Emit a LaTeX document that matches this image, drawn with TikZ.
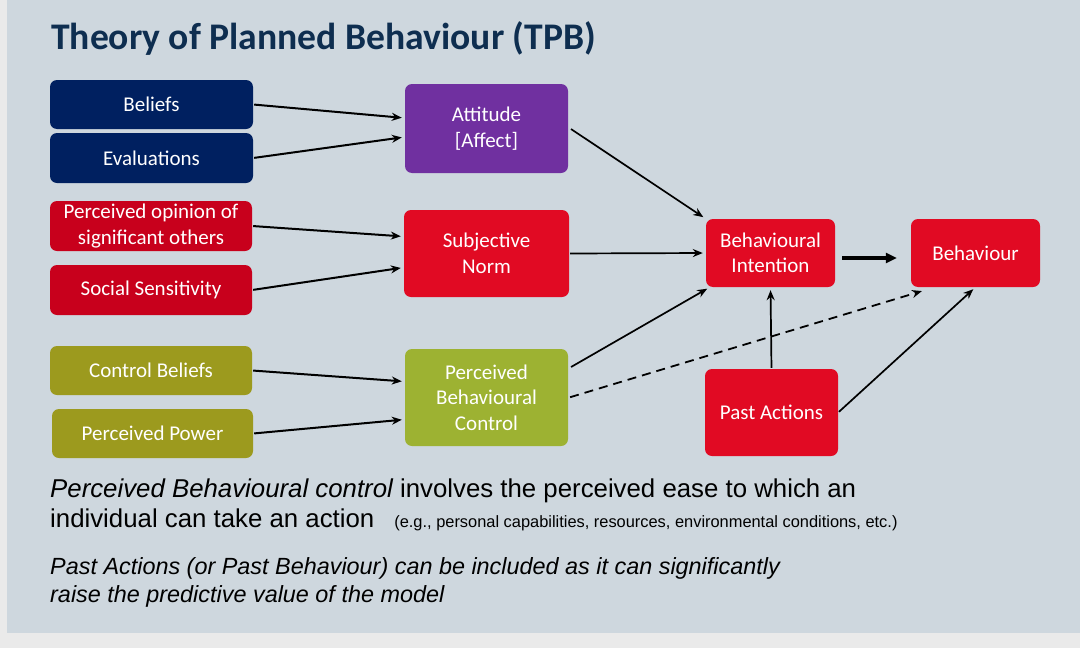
\documentclass[tikz,border=0pt]{standalone}
\usepackage{fontspec}
\setmainfont{Carlito}
\newfontfamily\bodyfont{Liberation Sans}
\usetikzlibrary{arrows.meta,calc}
\definecolor{slidebg}{HTML}{CED7DE}
\definecolor{outerbg}{HTML}{EAEAEA}
\definecolor{navy}{HTML}{002060}
\definecolor{purp}{HTML}{7030A0}
\definecolor{redA}{HTML}{C8001C}
\definecolor{redB}{HTML}{E10A23}
\definecolor{olive}{HTML}{9C9A1E}
\definecolor{lime}{HTML}{9DB232}
\definecolor{titlec}{HTML}{0E2E50}
\tikzset{
  box/.style={rounded corners=7pt, text=white, align=center, font=\fontsize{21}{25.5}\selectfont, inner sep=2pt},
  arr/.style={-{Stealth[length=10pt,width=8pt]}, line width=2pt, shorten >=3pt, shorten <=1pt},
}
\begin{document}
\begin{tikzpicture}[x=1pt,y=-1pt]
\fill[outerbg] (0,0) rectangle (1080,648);
\fill[slidebg] (7,0) rectangle (1080,633);
\useasboundingbox (0,0) rectangle (1080,648);

\node[anchor=base west, text=titlec, font=\fontsize{37.6}{42}\selectfont\bfseries, inner sep=0] (title) at (51,49.5) {Theory of Planned Behaviour (TPB)};

\node[box, fill=navy, minimum width=203pt, minimum height=49pt] (bel) at (151.5,104.5) {Beliefs};
\node[box, fill=navy, minimum width=203pt, minimum height=50pt] (eva) at (151.5,158) {Evaluations};
\node[box, fill=redA, minimum width=202pt, minimum height=50pt] (opi) at (151,226) {Perceived opinion of\\significant others};
\node[box, fill=redA, minimum width=202pt, minimum height=50pt] (soc) at (151,290) {Social Sensitivity};
\node[box, fill=olive, minimum width=202pt, minimum height=49pt] (cb) at (151,370.5) {Control Beliefs};
\node[box, fill=olive, minimum width=201pt, minimum height=49pt] (pp) at (152.5,433.5) {Perceived Power};

\node[box, fill=purp, minimum width=163pt, minimum height=89pt] (att) at (486.5,128.5) {Attitude\\{}[Affect]};
\node[box, fill=redB, minimum width=165pt, minimum height=87pt] (sn) at (486.5,253.5) {Subjective\\Norm};
\node[box, fill=lime, minimum width=163pt, minimum height=97pt] (pbc) at (486.5,397.5) {Perceived\\Behavioural\\Control};

\node[box, fill=redB, minimum width=129pt, minimum height=68pt] (bi) at (770.5,253) {Behavioural\\Intention};
\node[box, fill=redB, minimum width=129pt, minimum height=68pt] (beh) at (975.5,253) {Behaviour};
\node[box, fill=redB, minimum width=133pt, minimum height=87pt] (past) at (771.5,412.5) {Past Actions};

\draw[arr] (bel.east) -- ($(att.west)+(0,-10.5)$);
\draw[arr] (eva.east) -- ($(att.west)+(0,8.5)$);
\draw[arr] (opi.east) -- ($(sn.west)+(0,-17)$);
\draw[arr] (soc.east) -- ($(sn.west)+(0,14)$);
\draw[arr] (cb.east) -- ($(pbc.west)+(0,-16)$);
\draw[arr] (pp.east) -- ($(pbc.west)+(0,22)$);

\draw[arr, line width=1.7pt] ($(att.east)+(2,0)$) -- (bi.north west);
\draw[arr, line width=1.7pt] (sn.east) -- (bi.west);
\draw[arr, line width=1.7pt] ($(pbc.east)+(2,-30)$) -- ($(bi.south west)+(4,0)$);
\draw[arr, line width=1.8pt, dashed, dash pattern=on 9pt off 6pt] ($(pbc.east)+(1,0)$) -- ($(beh.south west)+(14,3)$);
\draw[-{Triangle[length=11pt,width=10pt]}, line width=3.5pt] ($(bi.east)+(7,5)$) -- ($(beh.west)+(-14,5)$);
\draw[arr, line width=1.7pt] (past.north) -- (bi.south);
\draw[arr, line width=1.7pt] (past.east) -- (beh.south);

\node[anchor=base west, inner sep=0, font=\bodyfont\fontsize{25.8}{30}\selectfont] (t1) at (50,497) {\itshape Perceived Behavioural control\upshape{} involves the perceived ease to which an};
\node[anchor=base west, inner sep=0, font=\bodyfont\fontsize{25.8}{30}\selectfont] (t2) at (50,527) {individual can take an action\hspace{20pt}{\fontsize{16.4}{19}\selectfont(e.g., personal capabilities, resources, environmental conditions, etc.)}};
\node[anchor=base west, inner sep=0, font=\bodyfont\itshape\fontsize{23.4}{27}\selectfont] (t3) at (50,574.5) {Past Actions (or Past Behaviour) can be included as it can significantly};
\node[anchor=base west, inner sep=0, font=\bodyfont\itshape\fontsize{23.4}{27}\selectfont] (t4) at (50,602.5) {raise the predictive value of the model};
\end{tikzpicture}
\end{document}
